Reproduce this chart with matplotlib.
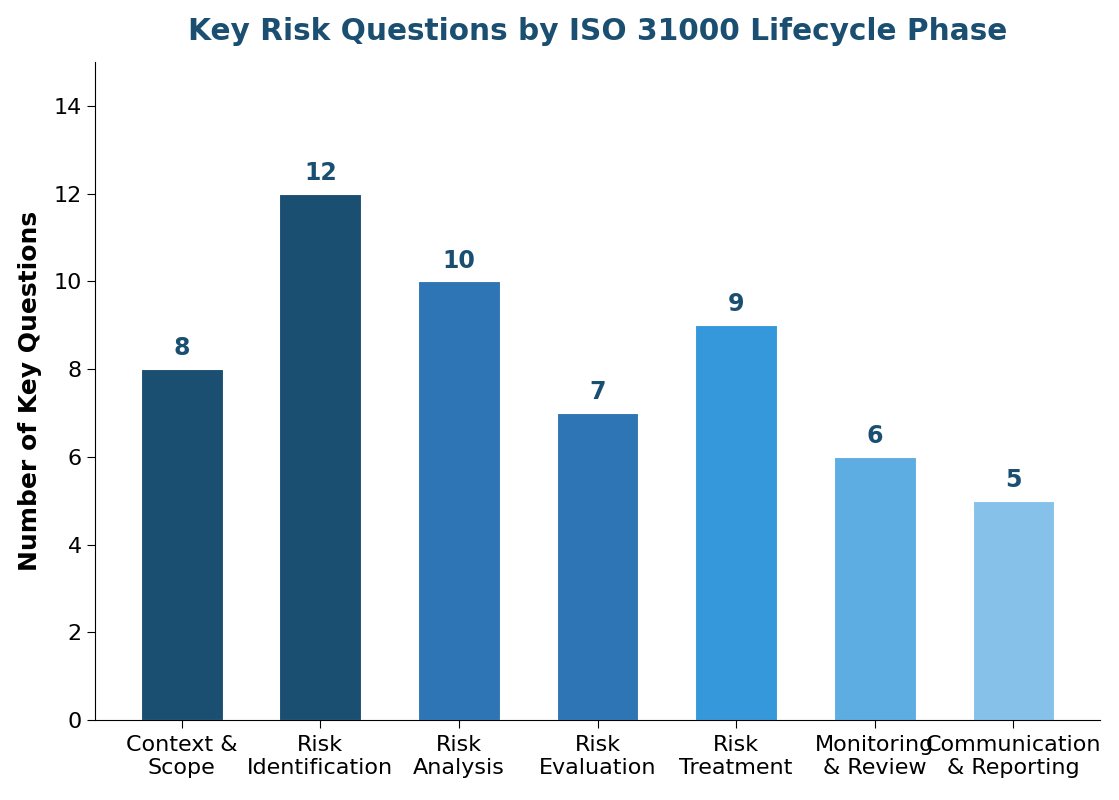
import matplotlib.pyplot as plt

fases = ["Context &\nScope", "Risk\nIdentification", "Risk\nAnalysis", "Risk\nEvaluation",
         "Risk\nTreatment", "Monitoring\n& Review", "Communication\n& Reporting"]
perguntas = [8, 12, 10, 7, 9, 6, 5]
cores = ["#1b4f72", "#1b4f72", "#2e75b6", "#2e75b6", "#3498db", "#5dade2", "#85c1e9"]

fig, ax = plt.subplots(figsize=(11.19, 8), dpi=100)
fig.subplots_adjust(left=0.085, right=0.983, top=0.9225, bottom=0.1)

x = range(len(fases))
barras = ax.bar(x, perguntas, width=0.59, color=cores, edgecolor="white", linewidth=0.8)

for b, v in zip(barras, perguntas):
    ax.text(b.get_x() + b.get_width() / 2, v + 0.2, str(v), ha="center", va="bottom",
            fontsize=17, fontweight="bold", color="#1b4f72")

ax.set_xticks(list(x))
ax.set_xticklabels(fases, fontsize=16)
ax.tick_params(axis="y", labelsize=16)
ax.tick_params(axis="x", pad=5)
ax.tick_params(length=6)
ax.set_ylim(0, 15)
ax.set_yticks(range(0, 15, 2))
ax.set_ylabel("Number of Key Questions", fontsize=18, fontweight="bold", labelpad=8)
ax.set_title("Key Risk Questions by ISO 31000 Lifecycle Phase", fontsize=21.3,
             fontweight="bold", color="#1b4f72", pad=16)

ax.spines["top"].set_visible(False)
ax.spines["right"].set_visible(False)

plt.savefig("out.png")
plt.close()
